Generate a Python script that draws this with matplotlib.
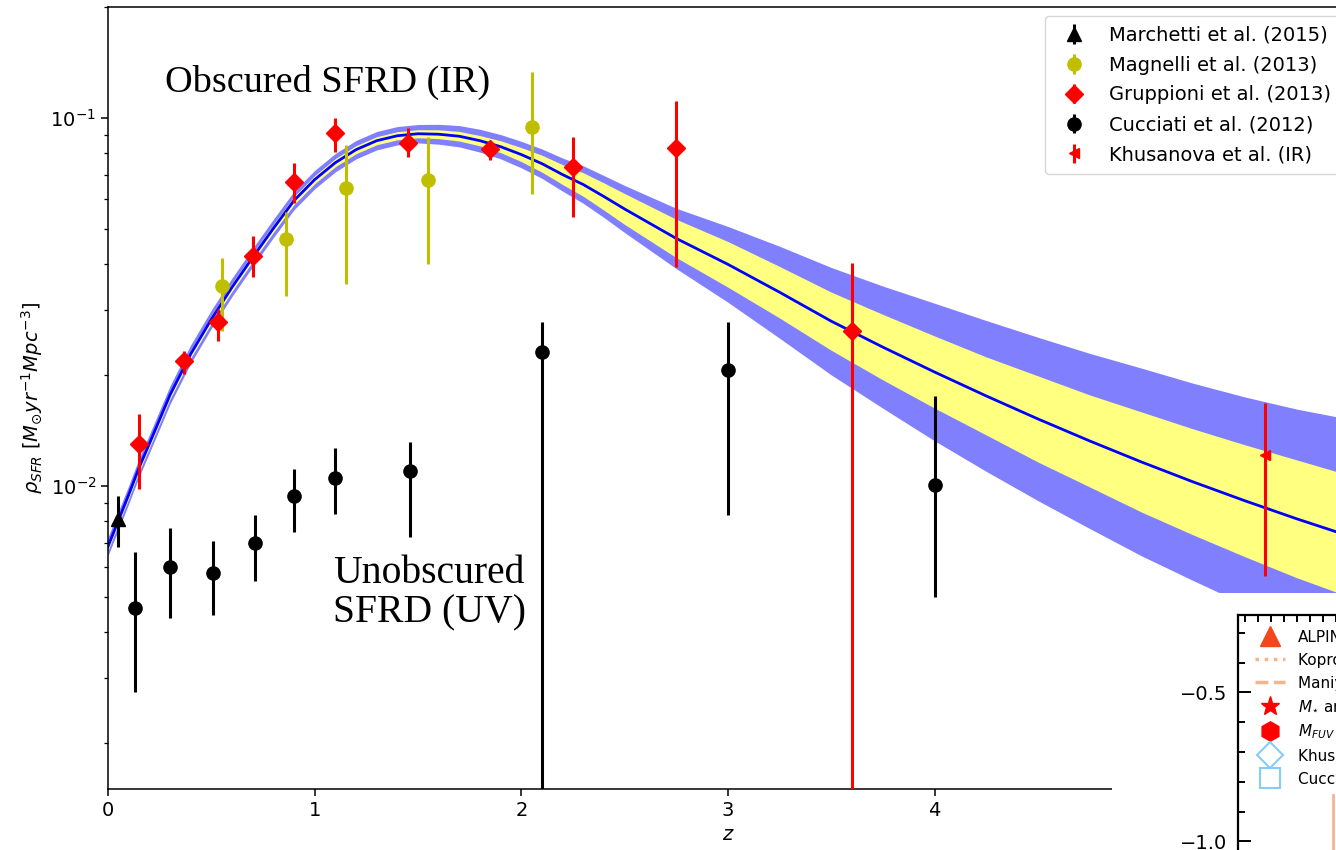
import numpy as np
import matplotlib.pyplot as plt
from matplotlib.lines import Line2D
from matplotlib.patches import Rectangle
from matplotlib.ticker import MultipleLocator

plt.rcParams['axes.linewidth'] = 1.1
plt.rcParams['xtick.major.width'] = 1.1
plt.rcParams['ytick.major.width'] = 1.1
plt.rcParams['ytick.minor.width'] = 0.9
plt.rcParams['xtick.major.size'] = 5
plt.rcParams['ytick.major.size'] = 5
plt.rcParams['ytick.minor.size'] = 3

# fitted obscured SFRD curve
z_fit = [0.0, 0.05, 0.1, 0.15, 0.2, 0.3, 0.4, 0.5, 0.6, 0.7, 0.8, 0.9, 1.0, 1.1,
         1.2, 1.3, 1.4, 1.5, 1.6, 1.7, 1.8, 1.9, 2.0, 2.1, 2.2, 2.3, 2.4, 2.5,
         2.75, 3.0, 3.25, 3.5, 3.75, 4.0, 4.25, 4.5, 4.75, 5.0, 5.25, 5.5, 5.75, 6.0]
sfrd_fit = [0.00684, 0.00804, 0.00945, 0.01119, 0.0130, 0.01765, 0.02279, 0.02835,
            0.03462, 0.04174, 0.05003, 0.05957, 0.06792, 0.07551, 0.0819, 0.08663,
            0.08937, 0.0905, 0.09022, 0.08909, 0.08663, 0.08345, 0.07943, 0.07504,
            0.07006, 0.06584, 0.06108, 0.05650, 0.04699, 0.03996, 0.03356, 0.028,
            0.0238, 0.02037, 0.01754, 0.01519, 0.01324, 0.01161, 0.01025, 0.00911,
            0.00814, 0.00732]
# half widths of the two bands in dex
inner_dex = [0.011, 0.011, 0.011, 0.011, 0.011, 0.011, 0.011, 0.011, 0.011, 0.011,
             0.011, 0.011, 0.011, 0.011, 0.011, 0.011, 0.011, 0.011, 0.012, 0.013,
             0.014, 0.016, 0.019, 0.023, 0.027, 0.032, 0.037, 0.042, 0.052, 0.062,
             0.070, 0.079, 0.089, 0.098, 0.106, 0.117, 0.125, 0.136, 0.144, 0.152,
             0.160, 0.165]
outer_dex = [0.025, 0.025, 0.025, 0.025, 0.025, 0.025, 0.025, 0.025, 0.025, 0.025,
             0.025, 0.025, 0.025, 0.025, 0.025, 0.025, 0.025, 0.025, 0.027, 0.029,
             0.031, 0.033, 0.036, 0.040, 0.045, 0.051, 0.057, 0.064, 0.082, 0.103,
             0.125, 0.146, 0.166, 0.187, 0.205, 0.222, 0.238, 0.255, 0.268, 0.282,
             0.298, 0.317]

marchetti_z = [0.05]
marchetti_v = [0.0081]
marchetti_lo = [0.0068]
marchetti_hi = [0.0094]

magnelli_z = [0.55, 0.86, 1.15, 1.55, 2.05]
magnelli_v = [0.0348, 0.0467, 0.0646, 0.0679, 0.0945]
magnelli_lo = [0.0263, 0.0327, 0.0353, 0.040, 0.0622]
magnelli_hi = [0.0415, 0.0556, 0.0845, 0.0888, 0.133]

gruppioni_z = [0.15, 0.37, 0.53, 0.70, 0.90, 1.10, 1.45, 1.85, 2.25, 2.75, 3.60]
gruppioni_v = [0.0130, 0.0218, 0.0278, 0.0420, 0.0671, 0.0911, 0.0855, 0.0824, 0.0737, 0.0829, 0.0263]
gruppioni_lo = [0.0098, 0.0201, 0.0247, 0.0369, 0.0588, 0.0809, 0.0784, 0.077, 0.0536, 0.0392, 1e-4]
gruppioni_hi = [0.0157, 0.0232, 0.0302, 0.0476, 0.0755, 0.100, 0.094, 0.0861, 0.0888, 0.111, 0.0402]

cucciati_z = [0.13, 0.30, 0.51, 0.71, 0.90, 1.10, 1.46, 2.10, 3.00, 4.00]
cucciati_v = [0.00465, 0.0060, 0.00578, 0.00697, 0.0094, 0.01051, 0.01099, 0.0231, 0.0206, 0.01003]
cucciati_lo = [0.00275, 0.00438, 0.00445, 0.0055, 0.0075, 0.0084, 0.00728, 1e-4, 0.00834, 0.0050]
cucciati_hi = [0.00662, 0.00769, 0.0071, 0.00834, 0.0111, 0.01268, 0.01316, 0.0278, 0.0278, 0.01754]

khusanova_z = [5.6]
khusanova_v = [0.01213]
khusanova_lo = [0.0057]
khusanova_hi = [0.0168]

# partly hidden second panel (bottom right)
inset_labels = ['ALPINE', 'Koprowski et al.', 'Maniyar et al.', r'$M_{\star}$ and SFR',
                r'$M_{FUV}$ and SFR', 'Khusanova et al.', 'Cucciati et al.']
inset_line_x = [0.78, 0.78]
inset_line_y = [-0.845, -1.4]


def yerr(v, lo, hi):
    v = np.array(v)
    return [v - np.array(lo), np.array(hi) - v]


W, H = 1336, 850
fig = plt.figure(figsize=(W / 100, H / 100), dpi=100)
ax = fig.add_axes([108 / W, 1 - 789 / H, (1348 - 108) / W, (789 - 7) / H])

zf = np.array(z_fit)
sf = np.array(sfrd_fit)
ax.fill_between(zf, sf * 10 ** -np.array(outer_dex), sf * 10 ** np.array(outer_dex),
                color='#8080ff', lw=0, zorder=1)
ax.fill_between(zf, sf * 10 ** -np.array(inner_dex), sf * 10 ** np.array(inner_dex),
                color='#ffff80', lw=0, zorder=1.1)
ax.plot(zf, sf, color='blue', lw=2, zorder=2)

kw = dict(ls='none', capsize=0, elinewidth=2.2, zorder=3)
ax.errorbar(marchetti_z, marchetti_v, yerr=yerr(marchetti_v, marchetti_lo, marchetti_hi),
            fmt='^', color='black', ms=9.5, label='Marchetti et al. (2015)', **kw)
ax.errorbar(magnelli_z, magnelli_v, yerr=yerr(magnelli_v, magnelli_lo, magnelli_hi),
            fmt='o', color='y', ms=9.5, label='Magnelli et al. (2013)', **kw)
ax.errorbar(gruppioni_z, gruppioni_v, yerr=yerr(gruppioni_v, gruppioni_lo, gruppioni_hi),
            fmt='D', color='red', ms=9.5, label='Gruppioni et al. (2013)', **kw)
ax.errorbar(cucciati_z, cucciati_v, yerr=yerr(cucciati_v, cucciati_lo, cucciati_hi),
            fmt='o', color='black', ms=9.5, label='Cucciati et al. (2012)', **kw)
ax.errorbar(khusanova_z, khusanova_v, yerr=yerr(khusanova_v, khusanova_lo, khusanova_hi),
            fmt='<', color='red', ms=7, label='Khusanova et al. (IR)', **kw)

ax.set_yscale('log')
ax.set_xlim(0, 6)
ax.set_ylim(0.0015, 0.2)
ax.tick_params(labelsize=14)
ax.set_xlabel('$z$', fontsize=14)
ax.set_ylabel(r'$\rho_{SFR}\ [M_{\odot} yr^{-1} Mpc^{-3}]$', fontsize=14)

ax.text(0.276, 0.1176, 'Obscured SFRD (IR)', family='Liberation Serif', fontsize=27.5,
        va='baseline')
ax.text(1.089, 0.00546, 'Unobscured', family='Liberation Serif', fontsize=28.5, va='baseline')
ax.text(1.089, 0.00426, 'SFRD (UV)', family='Liberation Serif', fontsize=28.5, va='baseline')

ax.legend(loc='upper left', bbox_to_anchor=(1045 / W, 1 - 16 / H), borderaxespad=0,
          bbox_transform=fig.transFigure, fontsize=14, labelspacing=0.56, borderpad=0.5)

# white cut-out with the second panel
fig.patches.append(Rectangle((1112 / W, 0), 224 / W, 257 / H, transform=fig.transFigure,
                             facecolor='white', edgecolor='none', zorder=1))
ax_in = fig.add_axes([1238 / W, 1 - 990.5 / H, 390 / W, 375.5 / H])
ax_in.set_zorder(3)
ax_in.set_xlim(0.05, 3.05)
ax_in.set_ylim(-1.5, -0.24)
for s in ax_in.spines.values():
    s.set_linewidth(1.6)
ax_in.xaxis.set_major_locator(MultipleLocator(1))
ax_in.xaxis.set_minor_locator(MultipleLocator(0.1))
ax_in.yaxis.set_major_locator(MultipleLocator(0.5))
ax_in.yaxis.set_minor_locator(MultipleLocator(0.1))
ax_in.tick_params(which='both', direction='in', top=True, right=True, width=1.4)
ax_in.tick_params(which='major', length=9, labelsize=14, pad=8)
ax_in.tick_params(which='minor', length=5)
ax_in.plot(inset_line_x, inset_line_y, color='#f4b48c', lw=2)

handles = [
    Line2D([], [], marker='^', color='#f2461c', ls='none', ms=14),
    Line2D([], [], color='#f4b48c', ls=':', lw=2.5),
    Line2D([], [], color='#f4b48c', ls='--', lw=2.5),
    Line2D([], [], marker='*', color='red', ls='none', ms=14),
    Line2D([], [], marker='h', color='red', ls='none', ms=14),
    Line2D([], [], marker='D', mfc='white', mec='#86ccf8', ls='none', ms=13, mew=1.5),
    Line2D([], [], marker='s', mfc='white', mec='#86ccf8', ls='none', ms=14, mew=1.5),
]
ax_in.legend(handles, inset_labels, loc='upper left', bbox_to_anchor=(1241 / W, 1 - 616 / H),
             bbox_transform=fig.transFigure, frameon=False, fontsize=11,
             labelspacing=0.52, handlelength=2, handletextpad=0.8)

fig.savefig('out.png', dpi=100)
